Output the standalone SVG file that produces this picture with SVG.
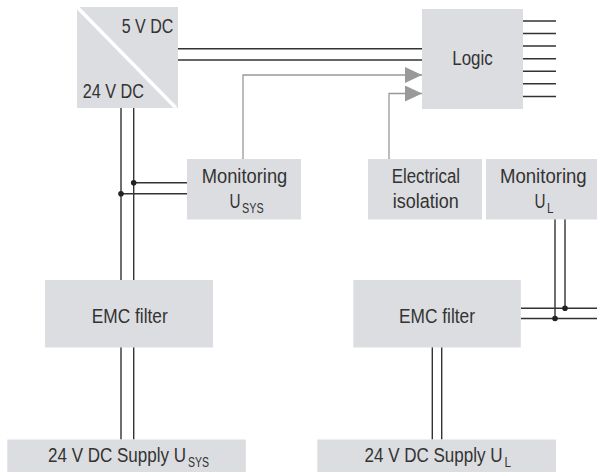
<svg xmlns="http://www.w3.org/2000/svg" width="597" height="472" viewBox="0 0 597 472">
<style>
.box{fill:#dcdde0}
.t{font-family:"Liberation Sans",Arial,sans-serif;font-size:20px;fill:#333}
.sub{font-size:14px}
.w{stroke:#333;stroke-width:1.4;fill:none}
.g{stroke:#999;stroke-width:1.3;fill:none}
.dot{fill:#222}
</style>
<defs>
<marker id="ah" markerUnits="userSpaceOnUse" markerWidth="17" markerHeight="16" refX="17" refY="8" orient="auto">
<path d="M0,0 L17,8 L0,16 Z" fill="#999"/>
</marker>
</defs>
<g id="connectors">
<path class="w" d="M178,48.7 H422 M178,60 H422"/>
<path class="w" d="M523,21 H556 M523,33.5 H556 M523,46 H556 M523,58.7 H556 M523,71.2 H556 M523,83.8 H556 M523,96.5 H556"/>
<path class="g" d="M243,159 V75 H422" marker-end="url(#ah)"/>
<path class="g" d="M389,159 V93.5 H422" marker-end="url(#ah)"/>
<path class="w" d="M121,108 V280 M133.7,108 V280 M133.7,182.7 H187 M121,193.7 H187"/>
<path class="w" d="M121,347 V439.5 M133.7,347 V439.5"/>
<path class="w" d="M555,219 V318.5 M565,219 V308.3 M521,308.3 H597 M521,318.5 H597"/>
<path class="w" d="M432.3,347 V439.5 M441.7,347 V439.5"/>
<circle class="dot" cx="133.7" cy="182.7" r="2.8"/>
<circle class="dot" cx="121" cy="193.7" r="2.8"/>
<circle class="dot" cx="565" cy="308.3" r="2.8"/>
<circle class="dot" cx="555" cy="318.5" r="2.8"/>
</g>
<g id="converter">
<rect class="box" x="77" y="7" width="101" height="101"/>
<line x1="77" y1="7" x2="176" y2="108" stroke="#fff" stroke-width="3.5"/>
<text class="t" x="121.7" y="33" textLength="51.6" lengthAdjust="spacingAndGlyphs">5 V DC</text>
<text class="t" x="82.7" y="98" textLength="61.3" lengthAdjust="spacingAndGlyphs">24 V DC</text>
</g>
<g id="logic">
<rect class="box" x="422" y="9" width="101" height="100"/>
<text class="t" x="452.3" y="65" textLength="40.4" lengthAdjust="spacingAndGlyphs">Logic</text>
</g>
<g id="monitoring-usys">
<rect class="box" x="187" y="159" width="114" height="60.5"/>
<text class="t" x="201.7" y="183" textLength="85.6" lengthAdjust="spacingAndGlyphs">Monitoring</text>
<text class="t" x="229.5" y="207.5"><tspan textLength="11" lengthAdjust="spacingAndGlyphs">U</tspan><tspan class="sub" x="242" dy="5" textLength="21.6" lengthAdjust="spacingAndGlyphs">SYS</tspan></text>
</g>
<g id="isolation">
<rect class="box" x="368" y="159" width="114" height="60.5"/>
<text class="t" x="391.7" y="183" textLength="68.3" lengthAdjust="spacingAndGlyphs">Electrical</text>
<text class="t" x="392.7" y="207.5" textLength="66" lengthAdjust="spacingAndGlyphs">isolation</text>
</g>
<g id="monitoring-ul">
<rect class="box" x="486" y="159" width="111" height="60.5"/>
<text class="t" x="500" y="183" textLength="86.7" lengthAdjust="spacingAndGlyphs">Monitoring</text>
<text class="t" x="534.5" y="207.5"><tspan textLength="11" lengthAdjust="spacingAndGlyphs">U</tspan><tspan class="sub" x="547" dy="5" textLength="6.5" lengthAdjust="spacingAndGlyphs">L</tspan></text>
</g>
<g id="emc-left">
<rect class="box" x="45" y="280" width="168" height="67.5"/>
<text class="t" x="91.7" y="323" textLength="76" lengthAdjust="spacingAndGlyphs">EMC filter</text>
</g>
<g id="emc-right">
<rect class="box" x="353.3" y="280" width="167.5" height="67.5"/>
<text class="t" x="399" y="323" textLength="76" lengthAdjust="spacingAndGlyphs">EMC filter</text>
</g>
<g id="supply-sys">
<rect class="box" x="7.3" y="439.5" width="238.5" height="33"/>
<text class="t" x="48" y="461.5"><tspan textLength="138" lengthAdjust="spacingAndGlyphs">24 V DC Supply U</tspan><tspan class="sub" x="188" dy="5" textLength="21" lengthAdjust="spacingAndGlyphs">SYS</tspan></text>
</g>
<g id="supply-l">
<rect class="box" x="317.3" y="439.5" width="238.7" height="33"/>
<text class="t" x="364.5" y="461.5"><tspan textLength="138" lengthAdjust="spacingAndGlyphs">24 V DC Supply U</tspan><tspan class="sub" x="504.5" dy="5" textLength="6.5" lengthAdjust="spacingAndGlyphs">L</tspan></text>
</g>
</svg>
